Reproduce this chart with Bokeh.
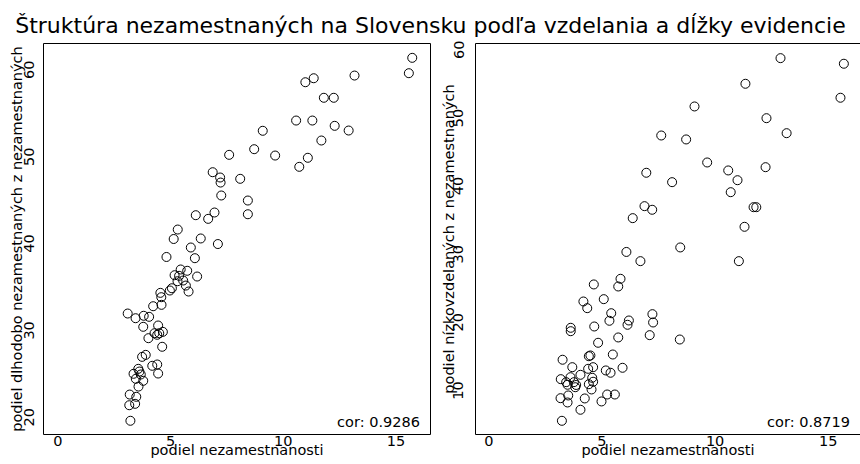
from bokeh.plotting import figure
from bokeh.models import Range1d, FixedTicker, Label, LinearAxis
from bokeh.layouts import column, row
from bokeh.embed import file_html
from bokeh.resources import INLINE

FONT = "DejaVu Sans"

title_text = "Štruktúra nezamestnaných na Slovensku podľa vzdelania a dĺžky evidencie"
x_label = "podiel nezamestnanosti"
y1_label = "podiel dlhodobo nezamestnaných z nezamestnaných"
y2_label = "podiel nízkovzdelaných z nezamestnaných"
cor1 = "cor:  0.9286"
cor2 = "cor:  0.8719"

x_ticks = [0, 5, 10, 15]
y1_ticks = [20, 30, 40, 50, 60]
y2_ticks = [10, 20, 30, 40, 50, 60]

# left panel: unemployment rate vs share of long-term unemployed
x1 = [15.72, 15.57, 10.98, 11.35, 13.16, 11.80, 12.24, 10.57, 11.29, 12.28, 12.90, 9.09, 11.69, 8.71,
      7.60, 9.64, 11.09, 10.71, 6.87, 7.20, 7.22, 8.09, 7.25, 8.43, 8.43, 6.12, 6.95, 6.67, 5.32, 5.14,
      6.34, 5.90, 7.10, 4.82, 6.08, 5.45, 5.74, 5.18, 5.38, 6.18, 5.31, 5.56, 5.68, 5.80, 5.06, 4.97,
      4.55, 4.59, 4.23, 4.60, 3.10, 3.45, 3.81, 4.05, 4.45, 3.79, 4.29, 4.50, 4.66, 4.41, 4.02, 4.63,
      3.90, 3.74, 4.19, 4.41, 3.57, 3.62, 3.36, 3.68, 3.46, 3.79, 3.58, 4.45, 3.19, 3.48, 3.17, 3.43, 3.22]
y1 = [61.38, 59.61, 58.57, 59.03, 59.34, 56.78, 56.78, 54.16, 54.16, 53.55, 53.01, 52.98, 51.86, 50.86,
      50.21, 50.13, 49.87, 48.83, 48.21, 47.60, 47.02, 47.45, 45.53, 44.95, 43.37, 43.26, 43.57, 42.84,
      41.61, 40.52, 40.58, 39.54, 39.94, 38.45, 38.31, 37.01, 36.86, 36.35, 36.28, 36.20, 35.66, 35.74,
      35.16, 34.47, 34.85, 34.59, 34.32, 33.82, 32.78, 32.94, 31.94, 31.40, 31.68, 31.56, 30.56, 30.41,
      29.67, 29.67, 29.83, 29.49, 29.10, 28.11, 27.18, 26.95, 25.92, 26.07, 25.57, 25.26, 25.00, 24.92,
      24.42, 24.19, 23.53, 25.03, 22.61, 22.35, 21.38, 21.54, 19.59]

# right panel: unemployment rate vs share of low-educated
x2 = [12.89, 15.69, 11.34, 15.54, 9.09, 12.27, 7.62, 13.16, 8.72, 9.65, 10.58, 12.23, 6.96, 10.99,
      8.10, 10.69, 6.88, 7.22, 11.70, 11.82, 6.36, 11.30, 8.46, 6.08, 6.70, 11.05, 5.82, 5.72, 4.64,
      4.18, 5.08, 4.35, 5.41, 7.23, 6.19, 5.33, 7.26, 6.13, 3.62, 3.62, 4.66, 7.11, 5.72, 8.44, 4.83,
      5.48, 4.42, 4.49, 3.26, 3.69, 4.61, 4.39, 5.91, 5.17, 5.38, 4.05, 3.18, 3.61, 3.42, 3.76, 3.86,
      3.48, 3.82, 4.57, 4.61, 4.42, 4.54, 3.17, 3.51, 3.48, 5.23, 5.57, 4.24, 4.98, 4.05, 3.23]
y2 = [58.77, 57.95, 55.01, 52.96, 51.68, 49.96, 47.42, 47.76, 46.84, 43.46, 42.29, 42.77, 41.95, 40.86,
      40.57, 39.10, 37.05, 36.52, 36.90, 36.90, 35.29, 34.02, 30.99, 30.33, 28.98, 28.98, 26.39, 25.26,
      25.56, 23.06, 23.40, 22.08, 21.34, 21.20, 20.27, 20.23, 19.98, 19.64, 19.20, 18.70, 19.39, 18.12,
      17.78, 17.48, 17.00, 15.28, 15.03, 15.14, 14.51, 13.42, 13.42, 13.18, 13.33, 12.94, 12.60, 12.30,
      11.66, 11.95, 11.22, 11.22, 10.81, 10.84, 10.48, 11.86, 11.28, 10.92, 10.15, 8.87, 9.27, 8.24,
      9.41, 9.41, 8.83, 8.39, 7.17, 5.55]

FS = "14.5px"
TITLE_H = 40
PANEL_H = 424
B_TOP = 3
B_BOTTOM = 30


def make_panel(xs, ys, xr, yr, yticks, width, bl, br, ylab, ystand, ylab_stand, cor, cor_x, full_box):
    p = figure(width=width, height=PANEL_H, x_range=Range1d(*xr), y_range=Range1d(*yr),
               toolbar_location=None, output_backend="svg",
               min_border_left=bl, min_border_right=br, min_border_top=B_TOP,
               min_border_bottom=B_BOTTOM)
    p.grid.visible = False
    for ax in (p.xaxis[0], p.yaxis[0]):
        ax.major_tick_out = 0
        ax.major_tick_in = 0
        ax.minor_tick_out = 0
        ax.minor_tick_in = 0
        ax.major_label_text_font = FONT
        ax.major_label_text_font_size = FS
        ax.major_label_text_color = "black"
        ax.axis_label_text_font = FONT
        ax.axis_label_text_font_size = FS
        ax.axis_label_text_font_style = "normal"
        ax.axis_label_text_color = "black"
    p.xaxis.ticker = FixedTicker(ticks=x_ticks)
    p.yaxis.ticker = FixedTicker(ticks=yticks)
    p.xaxis.major_label_standoff = 1
    p.xaxis.axis_label = x_label
    p.xaxis.axis_label_standoff = -7
    p.yaxis.major_label_standoff = ystand
    p.yaxis.major_label_orientation = "vertical"
    p.yaxis.axis_label = ylab
    p.yaxis.axis_label_standoff = ylab_stand
    if full_box:
        p.outline_line_color = "black"
        p.outline_line_width = 1
        p.outline_line_alpha = 1
        p.axis.axis_line_color = None
    else:
        p.outline_line_color = None
        p.axis.axis_line_color = "black"
        top = LinearAxis(ticker=FixedTicker(ticks=[]), major_tick_out=0, major_tick_in=0,
                         minor_tick_out=0, minor_tick_in=0, major_label_standoff=0,
                         major_label_text_font_size="0px", axis_line_color="black")
        p.add_layout(top, "above")

    p.scatter(xs, ys, marker="circle", size=9, fill_color=None, line_color="black", line_width=1)

    p.add_layout(Label(x=cor_x, y=12.3, x_units="screen", y_units="screen", text=cor,
                       text_align="right", text_baseline="alphabetic",
                       text_font=FONT, text_font_size=FS, text_color="black"))
    return p


p1 = make_panel(x1, y1, (-0.634, 16.53), (18.01, 63.03), y1_ticks, 432, 43, 2,
                y1_label, 9, -3, cor1, 381, True)
p2 = make_panel(x2, y2, (-0.588, 16.425), (3.54, 60.92), y2_ticks, 428, 43, 0,
                y2_label, 12, -6, cor2, 379, False)

pt = figure(width=860, height=TITLE_H, x_range=Range1d(0, 1), y_range=Range1d(0, 1),
            toolbar_location=None, output_backend="svg", x_axis_location=None, y_axis_location=None,
            min_border=0, min_border_top=37, title=title_text)
pt.grid.visible = False
pt.outline_line_color = None
pt.title.align = "center"
pt.title.offset = 15
pt.title.standoff = 0
pt.title.text_font = FONT
pt.title.text_font_size = "22px"
pt.title.text_font_style = "normal"
pt.title.text_color = "black"

layout = column(pt, row(p1, p2))
open("out.html", "w").write(file_html(layout, INLINE))
